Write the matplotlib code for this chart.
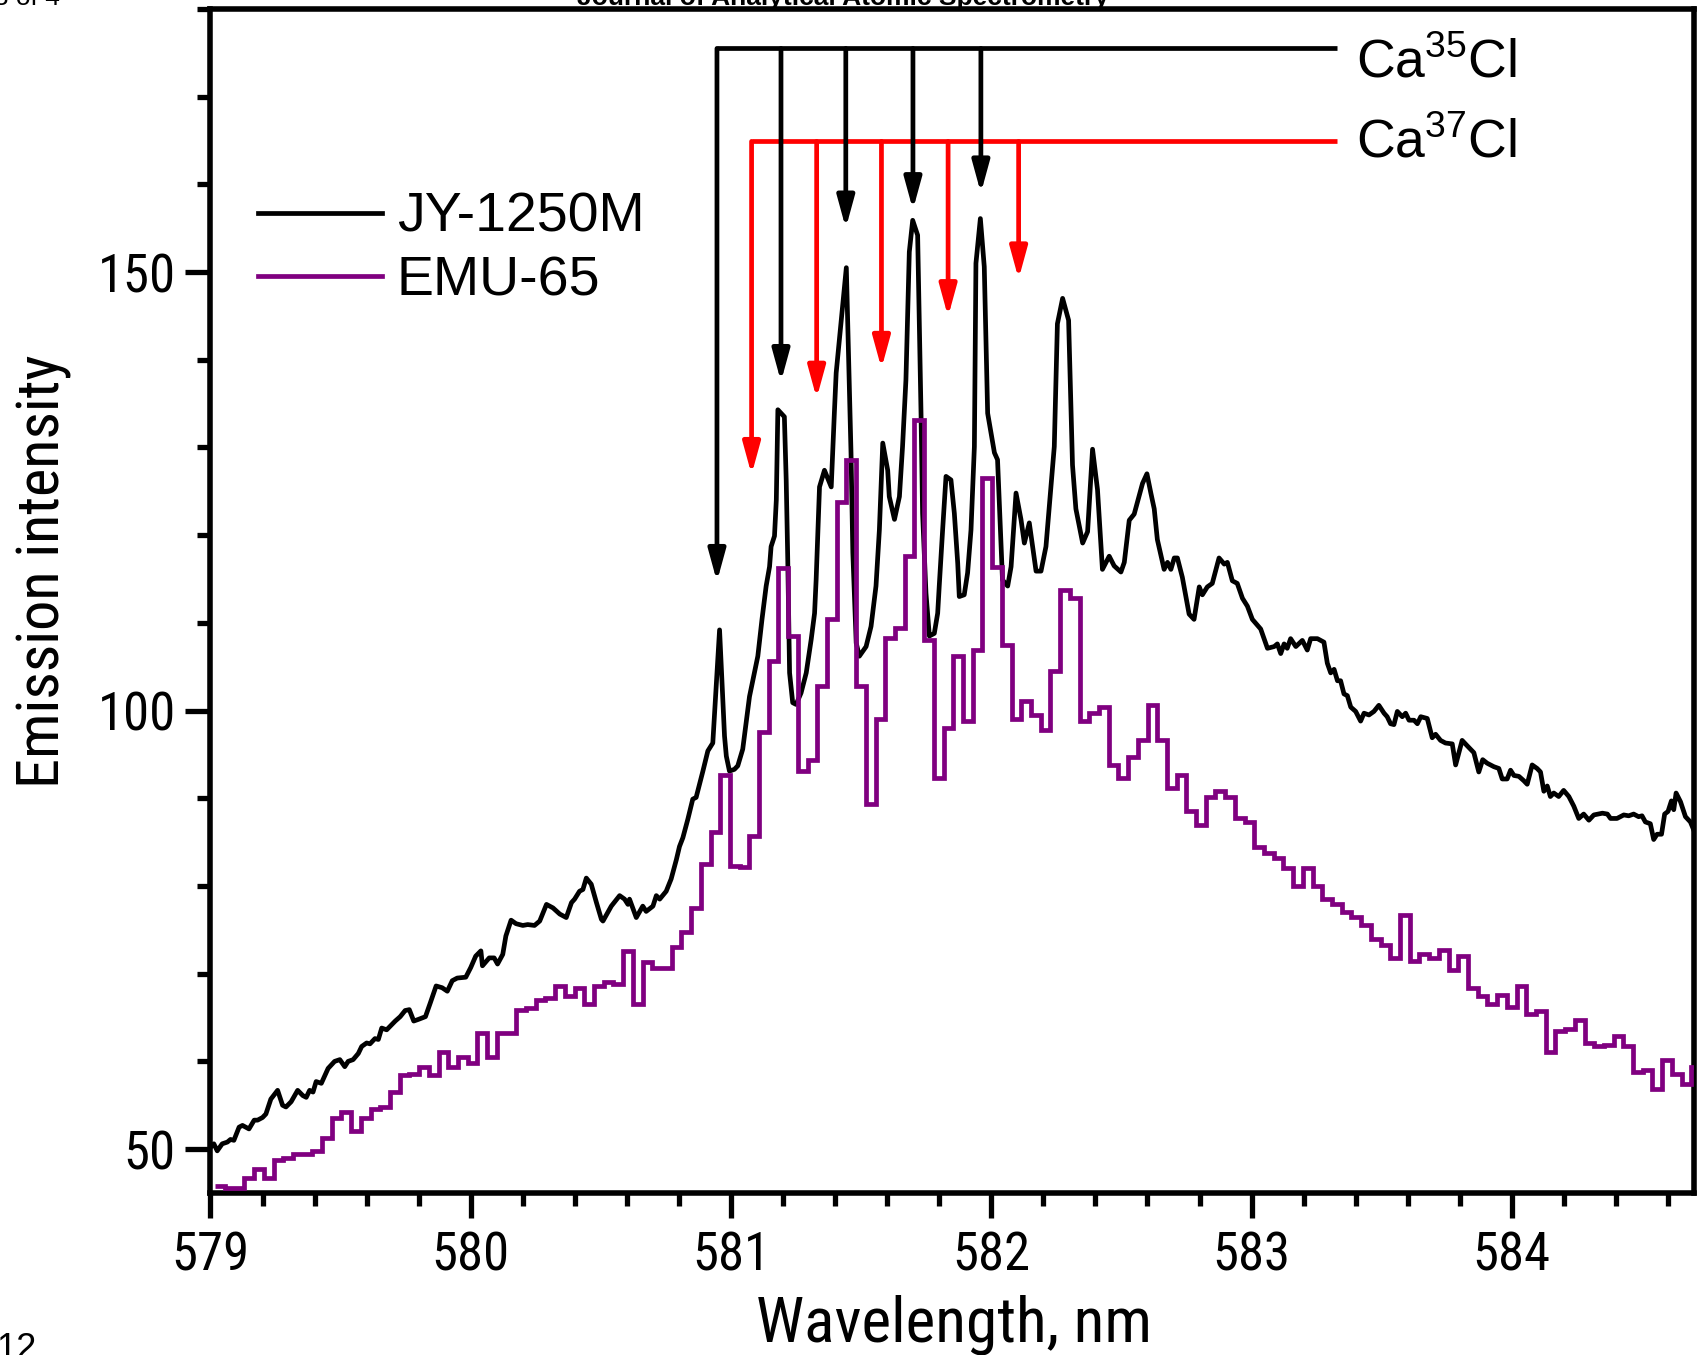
import numpy as np
import matplotlib.pyplot as plt
from matplotlib import font_manager
from matplotlib.font_manager import FontProperties
from matplotlib.ticker import MultipleLocator, FixedLocator
from matplotlib.lines import Line2D

# JY-1250M spectrum: wavelength (nm) and emission intensity
jy_wl = [
    579.000, 579.013, 579.026, 579.045, 579.065, 579.077, 579.090, 579.110, 579.123, 579.148,
    579.168, 579.181, 579.200, 579.213, 579.232, 579.258, 579.277, 579.290, 579.310, 579.335,
    579.355, 579.368, 579.381, 579.394, 579.406, 579.426, 579.452, 579.477, 579.497, 579.516,
    579.529, 579.548, 579.568, 579.581, 579.600, 579.613, 579.632, 579.645, 579.658, 579.677,
    579.710, 579.729, 579.748, 579.764, 579.781, 579.800, 579.826, 579.845, 579.867, 579.890,
    579.910, 579.929, 579.948, 579.981, 580.000, 580.019, 580.039, 580.045, 580.071, 580.090,
    580.103, 580.123, 580.135, 580.155, 580.174, 580.200, 580.219, 580.245, 580.265, 580.291,
    580.316, 580.342, 580.367, 580.387, 580.399, 580.418, 580.431, 580.444, 580.463, 580.483,
    580.502, 580.508, 580.540, 580.572, 580.591, 580.604, 580.610, 580.636, 580.661, 580.674,
    580.700, 580.713, 580.726, 580.751, 580.770, 580.790, 580.802, 580.815, 580.834, 580.853,
    580.866, 580.892, 580.911, 580.930, 580.956, 580.975, 580.982, 580.994, 581.013, 581.026,
    581.045, 581.071, 581.103, 581.119, 581.135, 581.148, 581.154, 581.167, 581.174, 581.180,
    581.205, 581.212, 581.218, 581.225, 581.237, 581.250, 581.269, 581.289, 581.308, 581.321,
    581.327, 581.340, 581.359, 581.385, 581.397, 581.404, 581.443, 581.461, 581.468, 581.481,
    581.493, 581.519, 581.538, 581.557, 581.570, 581.583, 581.602, 581.608, 581.628, 581.647,
    581.659, 581.672, 581.685, 581.698, 581.717, 581.730, 581.736, 581.749, 581.762, 581.781,
    581.794, 581.800, 581.813, 581.826, 581.845, 581.858, 581.871, 581.877, 581.896, 581.909,
    581.922, 581.935, 581.941, 581.958, 581.973, 581.986, 582.012, 582.024, 582.043, 582.063,
    582.076, 582.095, 582.114, 582.127, 582.146, 582.172, 582.191, 582.210, 582.223, 582.242,
    582.254, 582.274, 582.297, 582.312, 582.325, 582.351, 582.370, 582.389, 582.408, 582.427,
    582.453, 582.472, 582.498, 582.511, 582.530, 582.549, 582.581, 582.598, 582.613, 582.626,
    582.638, 582.664, 582.677, 582.690, 582.703, 582.715, 582.734, 582.760, 582.779, 582.799,
    582.811, 582.830, 582.849, 582.875, 582.895, 582.907, 582.926, 582.945, 582.965, 582.984,
    583.003, 583.035, 583.061, 583.087, 583.099, 583.112, 583.125, 583.137, 583.150, 583.170,
    583.195, 583.214, 583.227, 583.253, 583.278, 583.291, 583.304, 583.317, 583.330, 583.342,
    583.355, 583.368, 583.381, 583.400, 583.419, 583.432, 583.451, 583.470, 583.489, 583.509,
    583.521, 583.534, 583.547, 583.560, 583.579, 583.592, 583.605, 583.624, 583.637, 583.650,
    583.675, 583.694, 583.707, 583.726, 583.745, 583.771, 583.784, 583.809, 583.828, 583.854,
    583.873, 583.888, 583.905, 583.931, 583.950, 583.963, 583.982, 583.995, 584.008, 584.027,
    584.046, 584.059, 584.078, 584.097, 584.110, 584.123, 584.136, 584.148, 584.161, 584.180,
    584.199, 584.219, 584.238, 584.257, 584.276, 584.296, 584.315, 584.348, 584.367, 584.379,
    584.404, 584.430, 584.449, 584.468, 584.487, 584.500, 584.513, 584.532, 584.545, 584.558,
    584.575, 584.587, 584.600, 584.613, 584.622, 584.631, 584.648, 584.667, 584.686, 584.700,
]
jy_int = [
    50.2, 50.6, 49.8, 50.6, 50.8, 51.1, 51.0, 52.5, 52.7, 52.3,
    53.3, 53.3, 53.6, 54.0, 55.7, 56.7, 55.0, 54.8, 55.4, 56.7,
    56.1, 55.9, 56.7, 56.5, 57.7, 57.5, 59.2, 60.0, 60.2, 59.4,
    60.0, 60.2, 60.9, 61.7, 62.1, 62.0, 62.6, 62.5, 63.8, 63.6,
    64.6, 65.1, 65.8, 65.9, 64.6, 64.8, 65.1, 66.7, 68.6, 68.4,
    68.0, 69.2, 69.5, 69.6, 70.7, 72.0, 72.6, 70.9, 71.8, 71.8,
    71.1, 72.2, 74.3, 76.1, 75.7, 75.5, 75.6, 75.5, 76.0, 77.9,
    77.5, 76.8, 76.4, 78.1, 78.5, 79.4, 79.6, 80.9, 80.2, 78.1,
    76.2, 76.0, 77.7, 78.9, 78.5, 77.9, 78.5, 76.4, 77.7, 77.1,
    77.7, 78.9, 78.5, 79.4, 80.8, 83.0, 84.5, 85.5, 87.6, 89.9,
    90.1, 93.1, 95.4, 96.3, 109.2, 97.1, 94.8, 93.1, 93.3, 93.7,
    95.6, 101.6, 106.2, 110.4, 114.2, 116.4, 118.7, 119.9, 124.0, 134.3,
    133.5, 126.3, 117.2, 104.3, 100.9, 100.7, 102.0, 104.3, 108.1, 111.1,
    114.9, 125.5, 127.4, 125.5, 133.9, 138.5, 150.5, 129.4, 118.0, 107.7,
    106.2, 107.3, 109.6, 114.2, 120.6, 130.5, 127.4, 124.4, 121.8, 124.4,
    130.1, 137.7, 152.3, 155.9, 154.2, 133.9, 122.5, 113.4, 108.5, 108.8,
    111.1, 114.2, 120.6, 126.7, 126.3, 122.5, 116.8, 113.0, 113.2, 115.7,
    120.6, 130.1, 151.0, 156.1, 150.6, 133.9, 129.4, 128.6, 114.9, 114.2,
    116.4, 124.8, 121.8, 119.1, 121.4, 115.9, 115.9, 118.7, 123.3, 130.1,
    144.1, 147.0, 144.5, 128.0, 123.0, 119.1, 120.4, 129.8, 125.2, 116.1,
    117.6, 116.5, 115.8, 116.9, 121.7, 122.4, 125.9, 127.0, 124.8, 123.0,
    119.5, 116.1, 116.9, 116.1, 117.4, 117.4, 115.2, 111.0, 110.4, 114.1,
    113.2, 114.1, 114.5, 117.4, 116.7, 116.9, 114.8, 114.5, 112.8, 111.9,
    110.4, 109.3, 107.1, 107.3, 107.6, 106.5, 107.6, 107.1, 108.2, 107.3,
    108.0, 106.9, 108.2, 108.2, 107.8, 105.4, 104.3, 104.7, 103.4, 103.4,
    101.9, 101.7, 100.4, 99.9, 98.8, 99.7, 99.5, 99.9, 100.6, 99.7,
    99.3, 98.5, 98.4, 99.9, 99.3, 99.7, 98.9, 98.9, 98.5, 99.3,
    99.1, 96.9, 97.3, 96.6, 96.3, 96.2, 93.8, 96.6, 96.0, 95.2,
    93.0, 94.4, 94.0, 93.6, 93.4, 92.2, 92.2, 93.2, 92.6, 92.5,
    92.0, 91.6, 93.8, 93.4, 93.0, 90.8, 91.4, 90.2, 90.6, 90.2,
    90.9, 90.2, 89.1, 87.7, 88.2, 87.5, 88.1, 88.3, 88.2, 87.7,
    87.7, 88.1, 88.0, 88.2, 87.9, 88.0, 87.3, 87.1, 85.3, 85.9,
    85.9, 88.2, 88.5, 89.7, 88.7, 90.6, 89.6, 87.9, 87.3, 86.3,
]

# EMU-65 spectrum: one intensity per detector bin
emu_start = 579.0184
emu_bin = 0.03731
emu_int = [
    45.8, 45.6, 45.6, 46.7, 47.7, 46.7, 48.7, 49.0, 49.4, 49.4,
    49.8, 51.3, 53.6, 54.2, 52.1, 53.6, 54.6, 54.8, 56.5, 58.4,
    58.6, 59.4, 58.4, 61.1, 59.4, 60.5, 59.8, 63.2, 60.5, 63.2,
    63.2, 65.9, 66.1, 67.0, 67.2, 68.6, 67.5, 68.4, 66.5, 68.6,
    69.0, 68.8, 72.6, 66.5, 71.3, 70.6, 70.6, 73.0, 74.7, 77.5,
    82.5, 86.1, 92.7, 82.3, 82.2, 85.7, 97.5, 105.7, 116.3, 108.5,
    93.1, 94.4, 102.8, 110.4, 123.8, 128.6, 102.8, 89.3, 99.0, 108.3,
    109.4, 117.6, 133.1, 108.1, 92.3, 98.0, 106.2, 98.8, 106.9, 126.5,
    116.4, 107.5, 99.0, 101.1, 99.5, 97.8, 104.5, 113.8, 112.8, 98.8,
    99.7, 100.4, 93.8, 92.3, 94.7, 96.7, 100.6, 96.7, 91.2, 92.7,
    88.6, 86.9, 90.1, 90.8, 90.1, 87.7, 87.3, 84.5, 83.8, 83.2,
    82.0, 80.0, 82.0, 80.0, 78.5, 78.0, 77.0, 76.5, 75.5, 74.0,
    73.3, 71.8, 76.7, 71.4, 72.2, 71.8, 72.7, 70.4, 72.0, 68.4,
    67.4, 66.6, 67.6, 66.2, 68.6, 65.4, 65.8, 61.1, 63.5, 63.7,
    64.7, 62.1, 61.7, 61.9, 62.9, 61.7, 58.8, 59.0, 56.8, 60.2,
    58.6, 57.4, 59.4, 56.8,
]

# band heads of the two isotopologues (wavelength, arrow tip) and bracket heights
ca35_wl = [580.946, 581.192, 581.441, 581.699, 581.960]
ca35_tip = [114.7, 137.5, 155.0, 157.1, 159.0]
ca37_wl = [581.079, 581.329, 581.578, 581.834, 582.105]
ca37_tip = [126.9, 135.6, 139.0, 144.9, 149.2]
ca35_level = 175.5
ca37_level = 164.9
bracket_end = 583.33


def condensed_font():
    """Path of a narrow sans face if one is installed, else None."""
    prefer = ['Liberation Sans Narrow', 'Arial Narrow', 'Nimbus Sans Narrow',
              'Roboto Condensed', 'Noto Sans', 'Open Sans', 'Lato']
    stretch_rank = {'condensed': 0, 'semi-condensed': 1, 'extra-condensed': 2}
    best = None
    for f in font_manager.fontManager.ttflist:
        narrowish = (f.stretch in stretch_rank or 'Narrow' in f.name
                     or 'Condensed' in f.name)
        if not narrowish or f.style != 'normal' or f.weight not in (400, 'normal', 'regular'):
            continue
        base = f.name.replace(' Condensed', '').replace(' SemiCondensed', '')
        rank = prefer.index(base) if base in prefer else (prefer.index(f.name) if f.name in prefer else 99)
        key = (rank, stretch_rank.get(f.stretch, 0) if 'Narrow' not in f.name else 0)
        if best is None or key < best[0]:
            best = (key, f.fname)
    return None if best is None or best[0][0] == 99 else best[1]


plt.rcParams['font.family'] = 'Liberation Sans'
plt.rcParams['mathtext.fontset'] = 'custom'
plt.rcParams['mathtext.rm'] = 'Liberation Sans'
plt.rcParams['mathtext.it'] = 'Liberation Sans:italic'
plt.rcParams['mathtext.bf'] = 'Liberation Sans:bold'

narrow_path = condensed_font()
if narrow_path:
    tick_fp = FontProperties(fname=narrow_path, size=38)
    xlabel_fp = FontProperties(fname=narrow_path, size=45.5)
    ylabel_fp = FontProperties(fname=narrow_path, size=43.5)
else:
    tick_fp = FontProperties(family='Liberation Sans', size=34)
    xlabel_fp = FontProperties(family='Liberation Sans', size=40)
    ylabel_fp = FontProperties(family='Liberation Sans', size=38)

fig = plt.figure(figsize=(17, 13.55), dpi=100)
ax = fig.add_axes([0.1238, 0.1196, 0.8727, 0.8738])

emu_edges = emu_start + emu_bin * np.arange(len(emu_int) + 1)

ax.plot(jy_wl, jy_int, color='black', lw=3.4, zorder=3)
ax.stairs(emu_int, emu_edges, baseline=None, color='#800080', lw=3.4, zorder=4)

# brackets with arrows pointing to each band head
lw_arrow = 3.4
ax.plot([ca35_wl[0], bracket_end], [ca35_level, ca35_level], color='black',
        lw=lw_arrow, solid_capstyle='butt', zorder=5)
ax.plot([ca37_wl[0], bracket_end], [ca37_level, ca37_level], color='red',
        lw=lw_arrow, solid_capstyle='butt', zorder=5)
for wl, tip in zip(ca35_wl, ca35_tip):
    ax.annotate('', xy=(wl, tip), xytext=(wl, ca35_level),
                arrowprops=dict(arrowstyle='-|>,head_length=0.95,head_width=0.26',
                                color='black', lw=lw_arrow, mutation_scale=20,
                                shrinkA=0, shrinkB=0), zorder=5)
for wl, tip in zip(ca37_wl, ca37_tip):
    ax.annotate('', xy=(wl, tip), xytext=(wl, ca37_level),
                arrowprops=dict(arrowstyle='-|>,head_length=0.95,head_width=0.26',
                                color='red', lw=lw_arrow, mutation_scale=20,
                                shrinkA=0, shrinkB=0), zorder=5)

ax.text(583.40, 172.2, r'Ca$^{35}$Cl', fontsize=38.5, va='baseline', ha='left')
ax.text(583.40, 163.1, r'Ca$^{37}$Cl', fontsize=38.5, va='baseline', ha='left')

ax.legend(loc='upper left', bbox_to_anchor=(0.032, 0.8454), frameon=False,
          fontsize=40, handlelength=2.23, handletextpad=0.27, labelspacing=0.2,
          borderpad=0, borderaxespad=0,
          handles=[Line2D([], [], color='black', lw=3.4),
                   Line2D([], [], color='#800080', lw=3.4)],
          labels=['JY-1250M', 'EMU-65'])

ax.set_xlim(579, 584.7)
ax.set_ylim(45, 180)
ax.xaxis.set_major_locator(MultipleLocator(1))
ax.xaxis.set_minor_locator(MultipleLocator(0.2))
ax.yaxis.set_major_locator(FixedLocator([50, 100, 150]))
ax.yaxis.set_minor_locator(MultipleLocator(10))

for side in ['left', 'right', 'top', 'bottom']:
    ax.spines[side].set_linewidth(4.0)
ax.tick_params(which='both', direction='out', width=3.8, top=False, right=False)
ax.tick_params(which='major', length=18)
ax.tick_params(which='minor', length=9.5)
ax.tick_params(axis='x', which='major', pad=9)
ax.tick_params(axis='y', which='major', pad=7)
for lbl in ax.get_xticklabels() + ax.get_yticklabels():
    lbl.set_fontproperties(tick_fp)

ax.set_xlabel('Wavelength, nm', fontproperties=xlabel_fp)
ax.set_ylabel('Emission intensity', fontproperties=ylabel_fp)
ax.xaxis.set_label_coords(0.501, -0.0855)
ax.yaxis.set_label_coords(-0.0935, 0.525)

# page furniture around the figure
fig.text(0.496, 1 - 5 / 1355, 'Journal of Analytical Atomic Spectrometry',
         ha='center', va='baseline', fontsize=19, fontweight='bold')
fig.text(60 / 1700, 1 - 5 / 1355, 'Page 3 of 4', ha='right', va='baseline', fontsize=19)
fig.text(-4 / 1700, 1 - 1332 / 1355, '12', ha='left', va='top', fontsize=26)

fig.savefig('out.png', dpi=100)
